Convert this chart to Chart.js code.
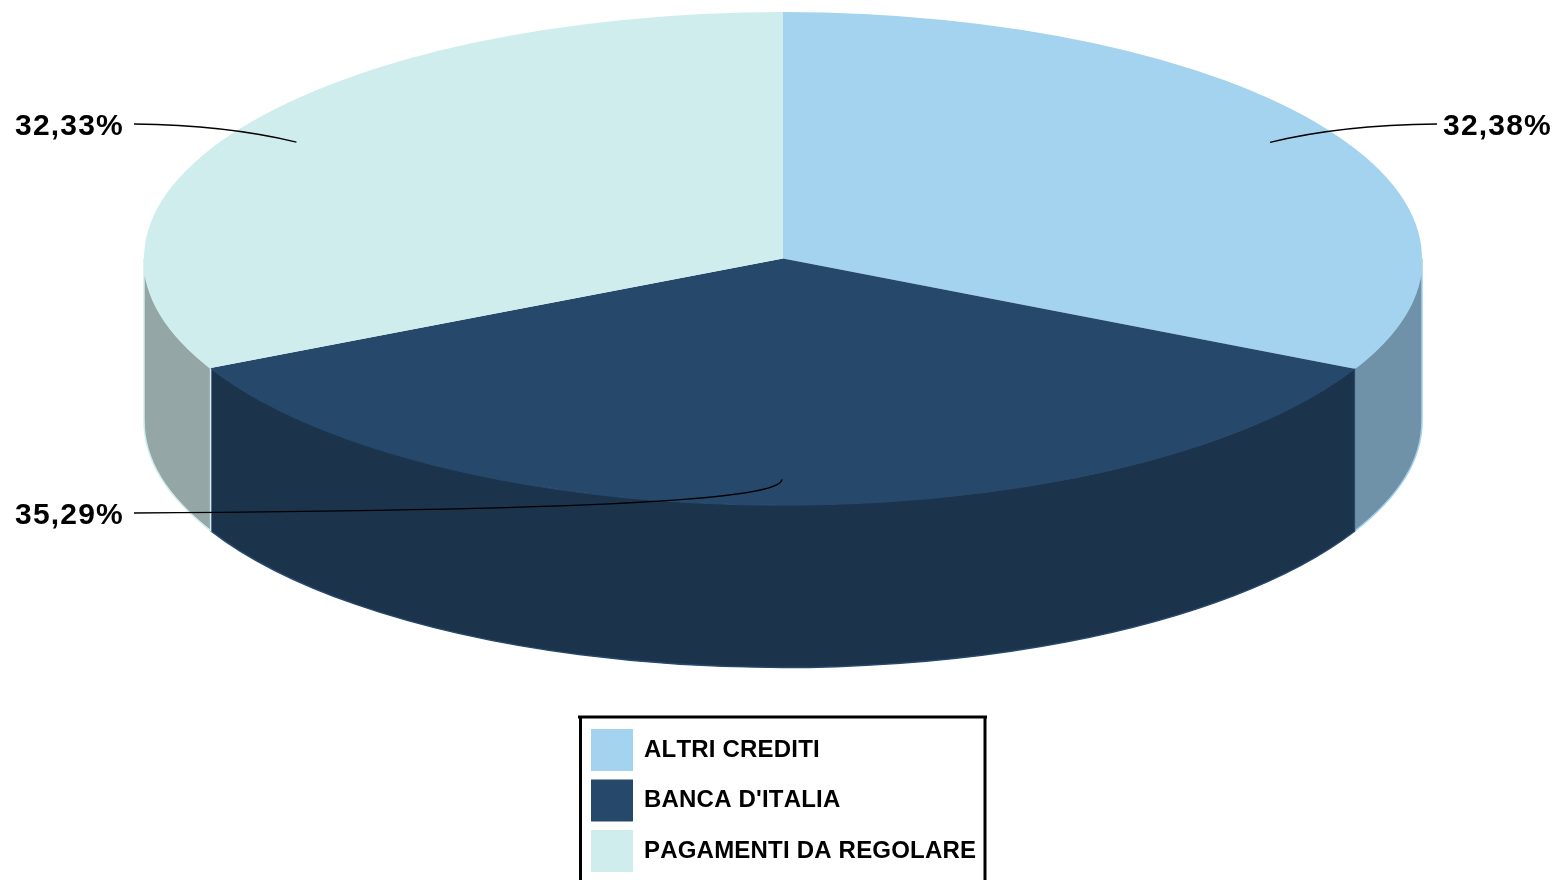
<!DOCTYPE html>
<html lang="en">
<head>
  <meta charset="UTF-8">
  <title>Pie 3D</title>
  <script src="https://cdn.jsdelivr.net/npm/chart.js"></script>
  <style>
    html, body { margin: 0; padding: 0; background: #fff; overflow: hidden; }
    .chart-box { width: 1558px; height: 880px; }
  </style>
</head>
<body>

<div class="chart-box">
  <canvas id="pie3d"></canvas>
</div>

<script>
// Data
const categories = ['ALTRI CREDITI', "BANCA D'ITALIA", 'PAGAMENTI DA REGOLARE'];
const percentages = [32.38, 35.29, 32.33];
const topColors = ['#a3d3ee', '#26486b', '#d0eded'];
const wallColors = ['#6f92a8', '#1c334c', '#94a7a6'];

// Where the tilted pie sits on the page
const centerX = 783;
const centerY = 258.5;
const radiusX = 639;
const radiusY = 246.5;
const depth = 162.5;

const pieFont = 'bold 30px "Liberation Sans", Arial, sans-serif';

const pie3d = {
  id: 'pie3d',
  afterLayout(chart) {
    // put the legend under the pie, not beside it
    const legend = chart.legend;
    legend.left = 581.5;
    legend.right = 985;
    legend.top = 719.5;
    legend.bottom = 920;
  },
  beforeDraw(chart) {
    // the reference text has no kerning and sits a bit wider
    chart.ctx.fontKerning = 'none';
    chart.ctx.letterSpacing = '0.2px';
  },
  beforeDatasetsDraw(chart) {
    const ctx = chart.ctx;
    const arcs = chart.getDatasetMeta(0).data;
    ctx.save();

    // side walls, only the part of each slice that faces the viewer
    arcs.forEach((arc, i) => {
      const from = Math.max(arc.startAngle, 0);
      const to = Math.min(arc.endAngle, Math.PI);
      if (to <= from) return;
      ctx.beginPath();
      ctx.ellipse(centerX, centerY, radiusX, radiusY, 0, from, to);
      ctx.ellipse(centerX, centerY + depth, radiusX, radiusY, 0, to, from, true);
      ctx.closePath();
      ctx.fillStyle = wallColors[i];
      ctx.strokeStyle = topColors[i];
      ctx.lineWidth = 1.5;
      ctx.fill();
      ctx.stroke();
    });
    ctx.restore();

    // top face: the library's own arcs, squashed into an ellipse
    const first = arcs[0];
    ctx.save();
    ctx.translate(centerX, centerY);
    ctx.scale(radiusX / first.outerRadius, radiusY / first.outerRadius);
    ctx.translate(-first.x, -first.y);
  },
  afterDatasetsDraw(chart) {
    const ctx = chart.ctx;
    ctx.restore();

    const arcs = chart.getDatasetMeta(0).data;
    // leader lines start at 90% of the radius on each slice's middle angle
    const anchor = arc => {
      const mid = (arc.startAngle + arc.endAngle) / 2;
      return [centerX + Math.cos(mid) * radiusX * 0.896, centerY + Math.sin(mid) * radiusY * 0.896];
    };
    const a = anchor(arcs[0]);
    const b = anchor(arcs[1]);
    const c = anchor(arcs[2]);

    ctx.save();
    ctx.strokeStyle = '#000';
    ctx.lineWidth = 1.3;
    ctx.beginPath();
    ctx.moveTo(a[0], a[1]);
    ctx.quadraticCurveTo(1340, 125, 1437, 124);
    ctx.moveTo(c[0], c[1]);
    ctx.quadraticCurveTo(226, 125, 134, 124);
    ctx.moveTo(b[0], b[1]);
    ctx.bezierCurveTo(780, 497, 650, 510, 134, 513);
    ctx.stroke();

    // percent labels
    ctx.font = pieFont;
    ctx.letterSpacing = '1.2px';
    ctx.fillStyle = '#000';
    ctx.textAlign = 'left';
    ctx.textBaseline = 'middle';
    const text = v => v.toFixed(2).replace('.', ',') + '%';
    ctx.fillText(text(percentages[0]), 1443, 127);
    ctx.fillText(text(percentages[1]), 15, 516);
    ctx.fillText(text(percentages[2]), 15, 127);
    ctx.letterSpacing = '0px';

    // legend frame, open at the bottom of the page
    ctx.strokeStyle = '#000';
    ctx.lineWidth = 3;
    ctx.beginPath();
    ctx.moveTo(578, 717);
    ctx.lineTo(987, 717);
    ctx.moveTo(580.5, 717);
    ctx.lineTo(580.5, 880);
    ctx.moveTo(985, 717);
    ctx.lineTo(985, 880);
    ctx.stroke();
    ctx.restore();
  }
};

new Chart(document.getElementById('pie3d'), {
  type: 'pie',
  data: {
    labels: categories,
    datasets: [{
      data: percentages,
      backgroundColor: topColors,
      borderWidth: 0
    }]
  },
  options: {
    responsive: true,
    maintainAspectRatio: false,
    animation: false,
    radius: radiusX,
    plugins: {
      tooltip: { enabled: false },
      legend: {
        position: 'left',
        align: 'start',
        labels: {
          boxWidth: 40,
          boxHeight: 40,
          padding: 10.5,
          color: '#000',
          font: { family: '"Liberation Sans", Arial, sans-serif', size: 24, weight: 'bold' },
          // swatch outline in its own colour, so the box is 42px on the page
          generateLabels(chart) {
            return Chart.overrides.pie.plugins.legend.labels.generateLabels(chart).map(item => {
              item.strokeStyle = item.fillStyle;
              item.lineWidth = 2;
              return item;
            });
          }
        }
      }
    }
  },
  plugins: [pie3d]
});
</script>

</body>
</html>
